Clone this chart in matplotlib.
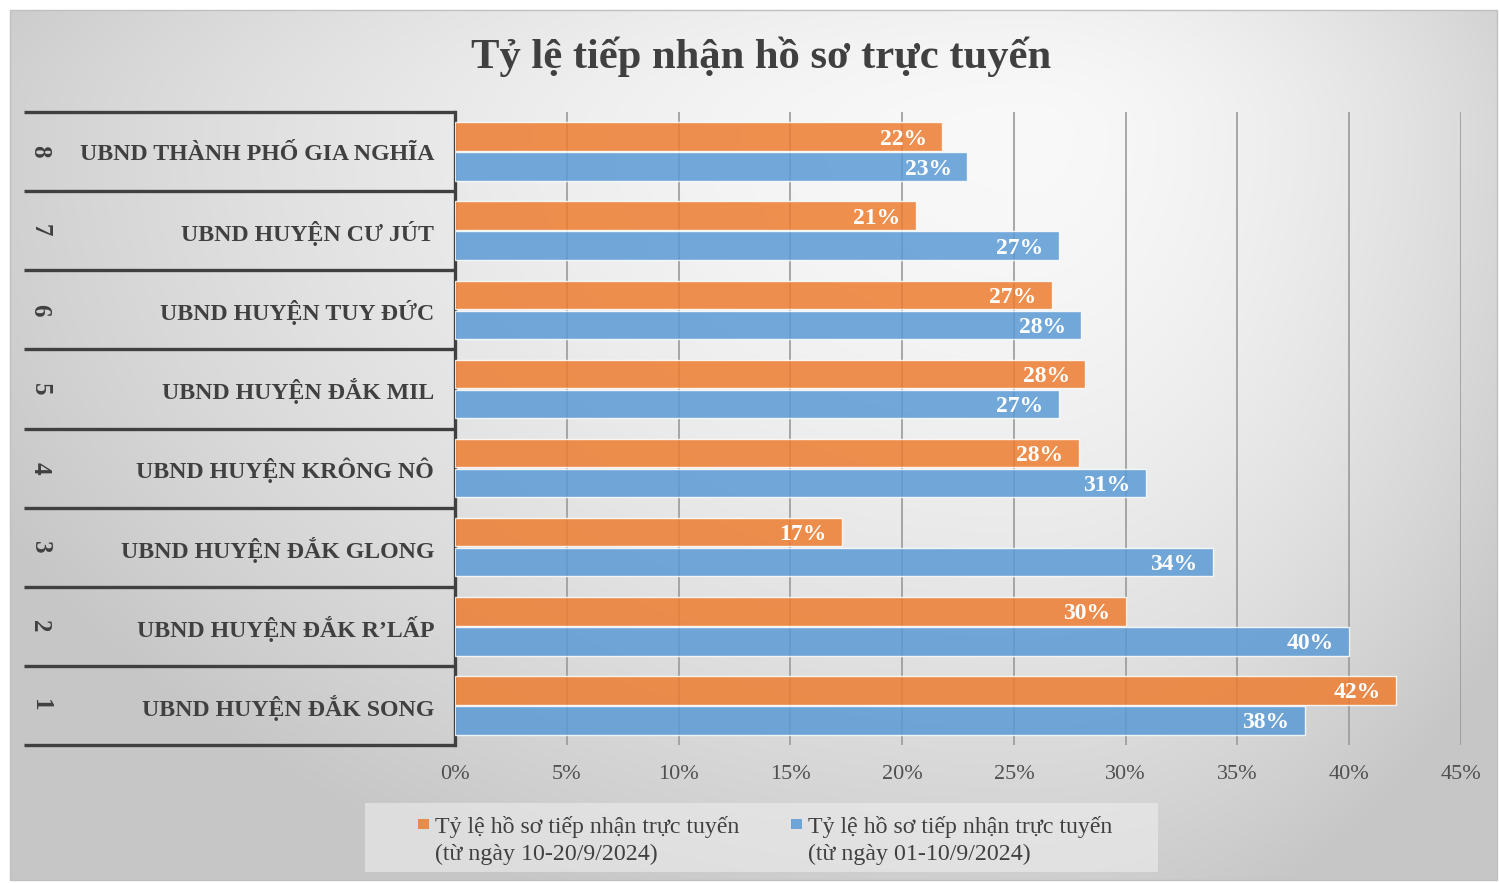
import numpy as np
import matplotlib
matplotlib.use("Agg")
import matplotlib.pyplot as plt
import matplotlib.transforms as mtransforms
from matplotlib.patches import Rectangle, Patch
from matplotlib.legend_handler import HandlerPatch

plt.rcParams['font.family'] = ['Liberation Serif', 'DejaVu Serif']

# ---------------- data ----------------
ranks = ["1", "2", "3", "4", "5", "6", "7", "8"]
categories = [
    "UBND HUYỆN ĐẮK SONG",
    "UBND HUYỆN ĐẮK R’LẤP",
    "UBND HUYỆN ĐẮK GLONG",
    "UBND HUYỆN KRÔNG NÔ",
    "UBND HUYỆN ĐẮK MIL",
    "UBND HUYỆN TUY ĐỨC",
    "UBND HUYỆN CƯ JÚT",
    "UBND THÀNH PHỐ GIA NGHĨA",
]
rate_10_20 = [42.1, 30.0, 17.3, 27.9, 28.2, 26.7, 20.6, 21.8]   # orange
rate_01_10 = [38.0, 40.0, 33.9, 30.9, 27.0, 28.0, 27.0, 22.9]   # blue
series_labels = [
    "Tỷ lệ hồ sơ tiếp nhận trực tuyến\n(từ ngày 10-20/9/2024)",
    "Tỷ lệ hồ sơ tiếp nhận trực tuyến\n(từ ngày 01-10/9/2024)",
]
x_ticks = [0, 5, 10, 15, 20, 25, 30, 35, 40, 45]
title = "Tỷ lệ tiếp nhận hồ sơ trực tuyến"

ORANGE = "#ED7D31"
BLUE = "#5B9BD5"
DARK = "#404040"

W, H = 1499, 883
fig = plt.figure(figsize=(W / 100, H / 100), dpi=100)
fig.patch.set_facecolor("white")

# ---------------- background gradient ----------------
bg = fig.add_axes([0, 0, 1, 1], zorder=-10)
bg.set_xlim(0, W)
bg.set_ylim(H, 0)
bg.axis("off")
x0, x1, y0, y1 = 10, 1497, 10, 880
xx, yy = np.meshgrid(np.linspace(x0, x1, 400), np.linspace(y0, y1, 240))
cx, cy = 1030, 130
dx = np.where(xx < cx, (xx - cx) / (cx - x0 + 150), (xx - cx) / (x1 - cx + 130))
dy = np.where(yy < cy, (yy - cy) / (cy - y0 + 250), (yy - cy) / (y1 - cy + 80))
d = np.clip(np.sqrt(dx ** 2 + dy ** 2), 0, 1)
val = 0.975 - (0.975 - 0.78) * d ** 1.7
img = np.dstack([val, val, val])
bg.imshow(img, extent=(x0, x1, y1, y0), aspect="auto", interpolation="bilinear")
bg.add_patch(Rectangle((x0, y0), x1 - x0, y1 - y0, fill=False,
                       edgecolor="#c0c0c0", lw=1))

# ---------------- main axes ----------------
ax = fig.add_axes([455 / W, 1 - 745 / H, 1006 / W, 633 / H])
ax.patch.set_alpha(0)

y = np.arange(len(categories))
off, bh = 0.19, 0.36
ax.barh(y + off, rate_10_20, height=bh, color=ORANGE, alpha=0.85,
        edgecolor=(1, 1, 1, 0.6), lw=1, zorder=3)
ax.barh(y - off, rate_01_10, height=bh, color=BLUE, alpha=0.85,
        edgecolor=(1, 1, 1, 0.6), lw=1, zorder=3)

for vals, yo in ((rate_10_20, off), (rate_01_10, -off)):
    for yi, v in zip(y, vals):
        ax.annotate(f"{v:.0f}%", xy=(v, yi + yo), xytext=(-11, 0),
                    textcoords="offset points", ha="right",
                    va="center_baseline", color="white", fontweight="bold",
                    fontsize=17, zorder=5)

ax.set_xlim(0, 45)
ax.set_ylim(-0.5, len(categories) - 0.5)
ax.set_xticks(x_ticks)
ax.set_xticklabels([f"{t}%" for t in x_ticks], fontsize=16, color="#505050")
ax.tick_params(axis="x", length=0, pad=14.5)
ax.grid(axis="x", color="#9a9a9a", lw=1.2, zorder=0)
ax.set_axisbelow(True)

ax.set_yticks(y)
ax.set_yticklabels(categories, fontsize=17.2, fontweight="bold", color=DARK)
ax.tick_params(axis="y", length=0, pad=15)

for s in ("top", "right", "bottom"):
    ax.spines[s].set_visible(False)
ax.spines["left"].set_color(DARK)
ax.spines["left"].set_linewidth(2.4)

# table lines and rank labels
tr = mtransforms.blended_transform_factory(fig.transFigure, ax.transData)
for b in np.arange(-0.5, len(categories), 1.0):
    ax.plot([24 / W, 455 / W], [b, b], transform=tr, color=DARK, lw=2.4,
            clip_on=False, solid_capstyle="butt", zorder=4)
for yi, r in zip(y, ranks):
    ax.text(40 / W, yi, r, transform=tr, rotation=270, ha="center",
            va="center", fontsize=18, fontweight="bold", color=DARK)

# title
fig.text(761 / W, 1 - 57 / H, title, ha="center", va="center",
         fontsize=30.7, fontweight="bold", color=DARK)

# ---------------- legend ----------------
bg.add_patch(Rectangle((365, 803), 1158 - 365, 872 - 803,
                       facecolor="#f0f0f0", alpha=0.55, edgecolor="none"))

LEG_FS = 17.2
SHIFT = 0.76 * LEG_FS


def top_square(legend, orig_handle, xdescent, ydescent, width, height, fontsize):
    s = 0.45 * fontsize
    return Rectangle((-xdescent + width - s, -ydescent + SHIFT), s, s)


handles = [Patch(facecolor=ORANGE, alpha=0.85), Patch(facecolor=BLUE, alpha=0.85)]
leg = fig.legend(handles, series_labels, ncol=2, loc="upper left",
                 bbox_to_anchor=(418 / W, 1 - 816 / H), frameon=False,
                 fontsize=LEG_FS, handlelength=0.45, handleheight=0.6,
                 handletextpad=0.25, columnspacing=2.17, borderpad=0,
                 borderaxespad=0,
                 handler_map={Patch: HandlerPatch(patch_func=top_square)})
for t in leg.get_texts():
    t.set_color("#404040")
    t.set_linespacing(1.35)

fig.savefig("out.png", dpi=100)
